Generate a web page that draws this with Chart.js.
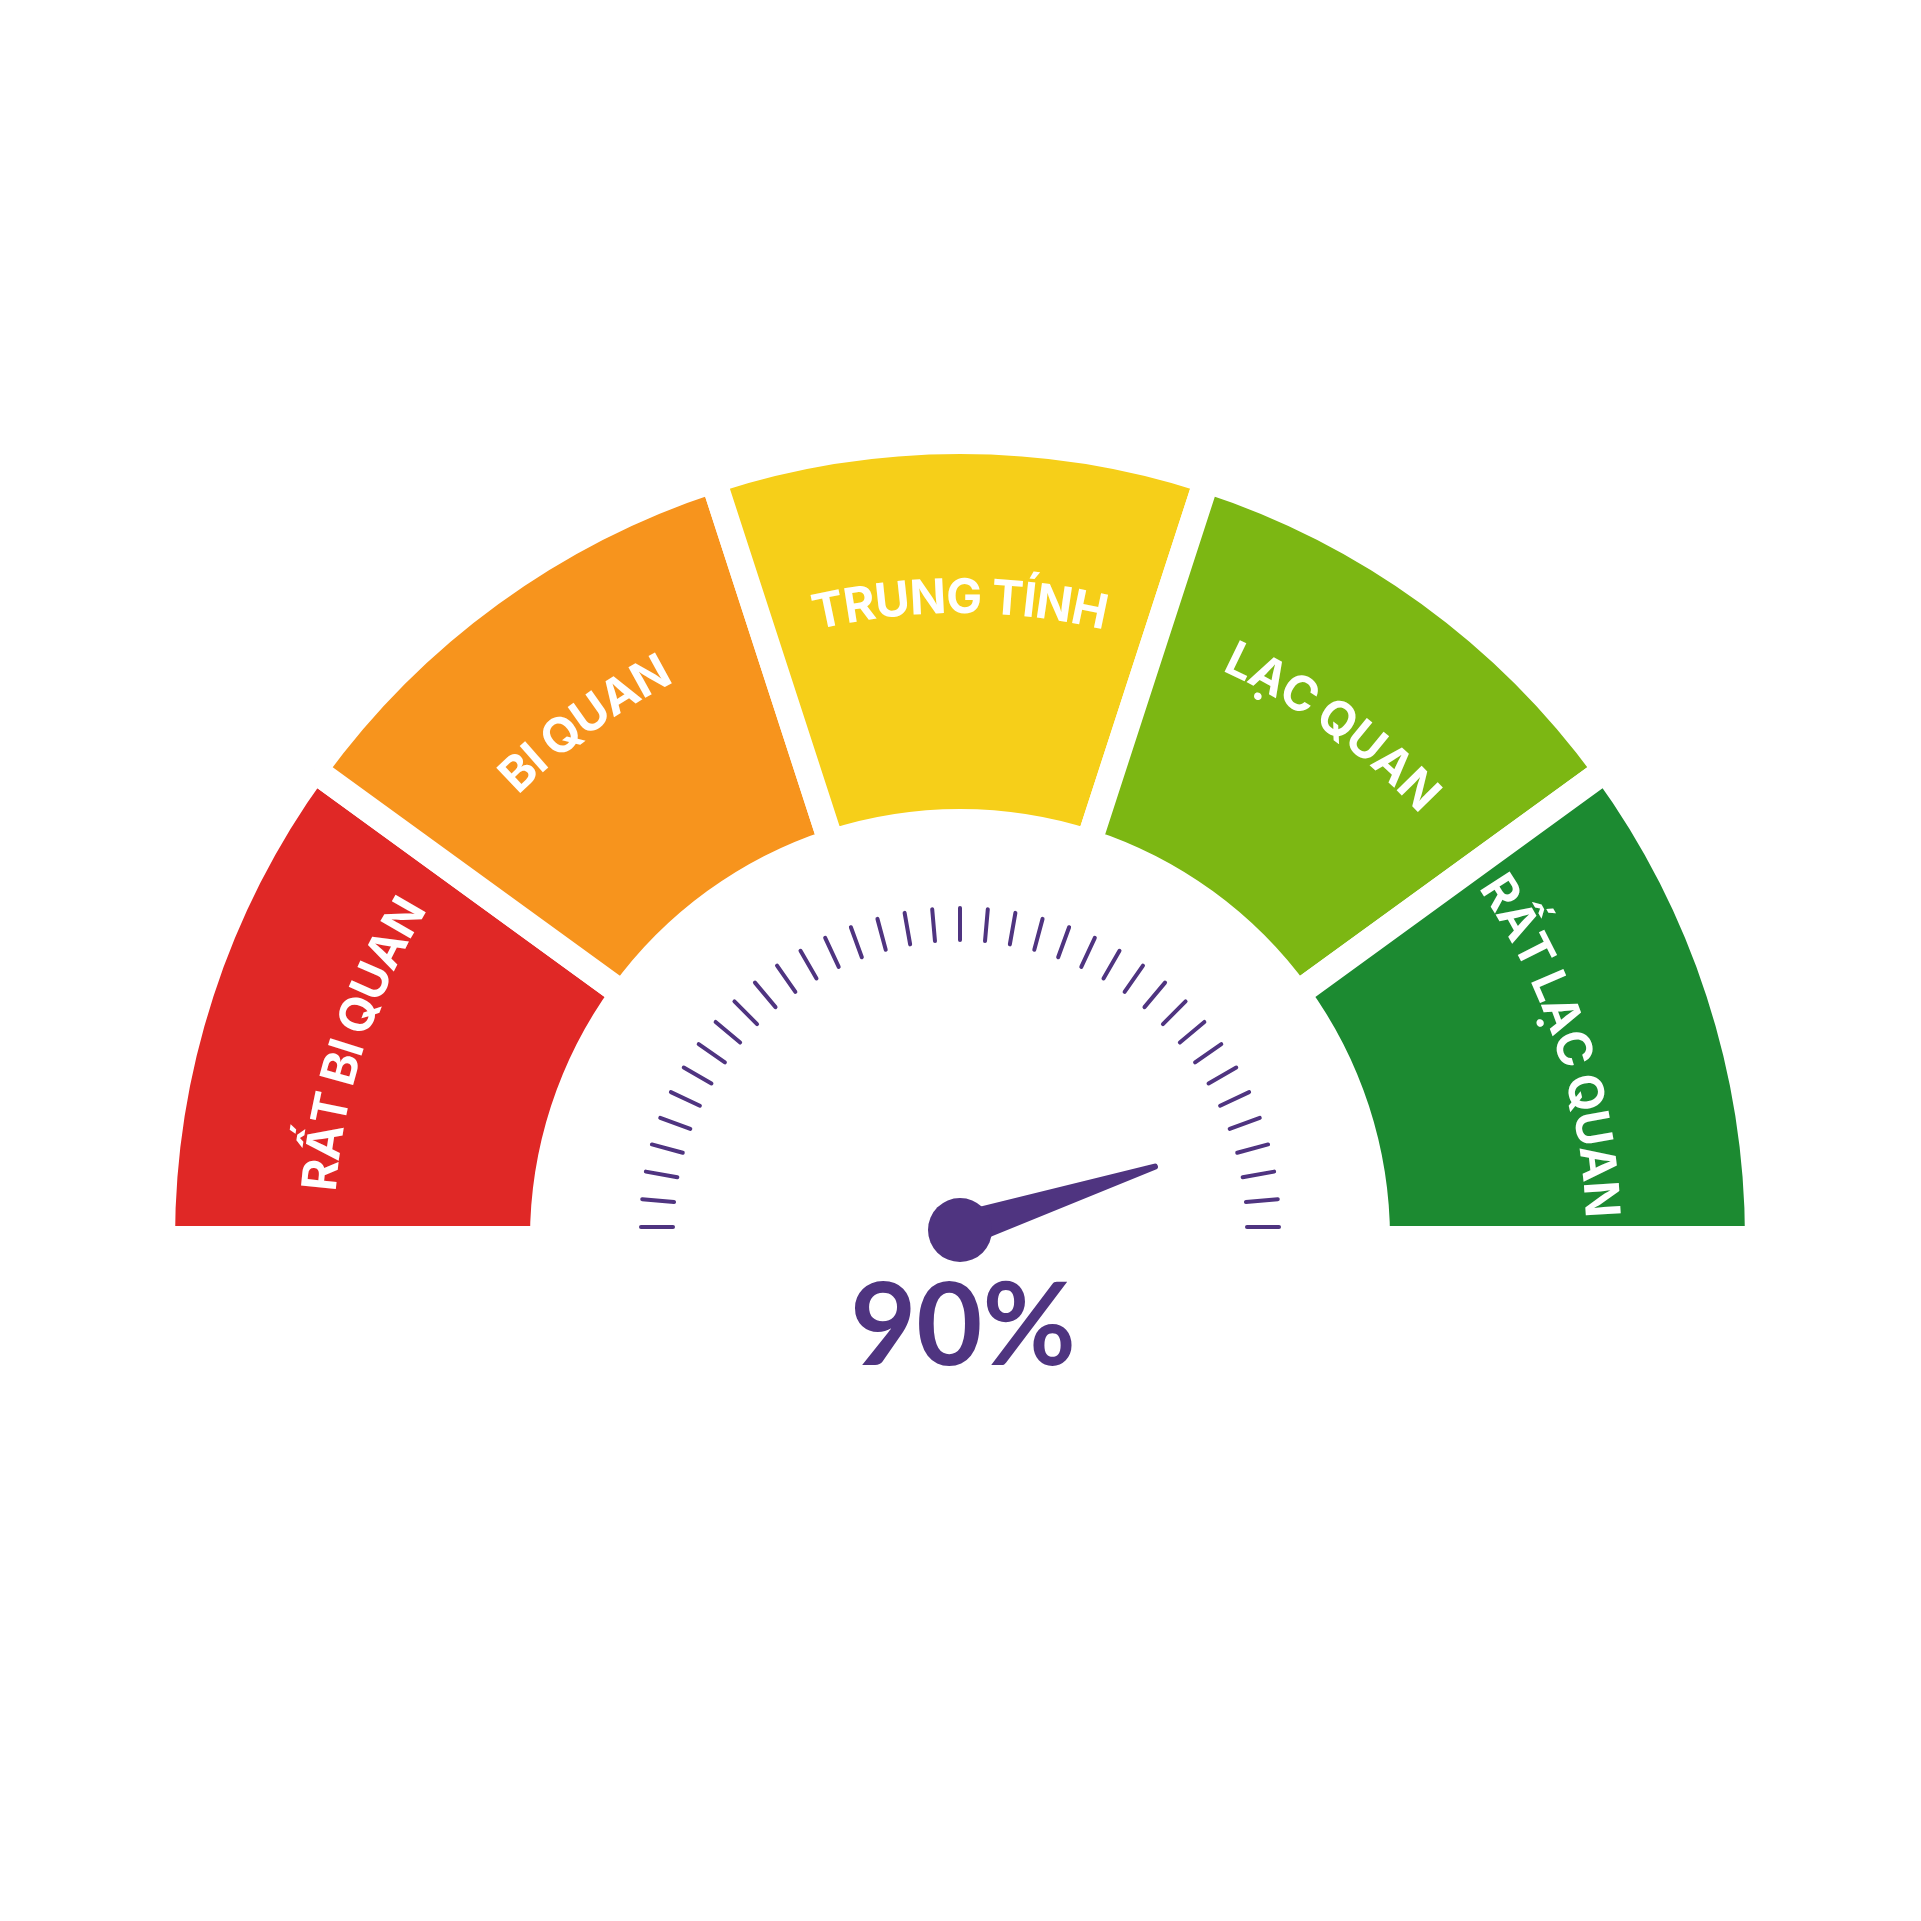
<!DOCTYPE html>
<html>
<head>
<meta charset="utf-8">
<script src="https://cdn.jsdelivr.net/npm/chart.js@4.4.1/dist/chart.umd.min.js"></script>
<style>
html,body{margin:0;padding:0;background:#ffffff;}
#wrap{width:1921px;height:1921px;}
</style>
</head>
<body>
<div id="wrap"><canvas id="c" width="1921" height="1921"></canvas></div>
<script>
// ---- data ----
const categories = ['RẤT BI QUAN', 'BI QUAN', 'TRUNG TÍNH', 'LẠC QUAN', 'RẤT LẠC QUAN'];
const segmentValues = [20, 20, 20, 20, 20];
const gaugeValue = 90;
const gaugeMax = 100;
const valueLabel = '90%';
const tickCount = 37;
// ---- styles ----
const segmentColors = ['#e02826', '#f7941d', '#f6cf19', '#7cb713', '#1c8a31'];
const purple = '#4f3480';

function drawArcText(ctx, text, cx, cy, r, midAngle, spacing, spaceScale) {
  const chars = Array.from(text);
  const widths = chars.map(ch => ctx.measureText(ch).width * (ch === ' ' ? spaceScale : 1));
  const total = widths.reduce((a, b) => a + b, 0) + spacing * (chars.length - 1);
  let a = midAngle - total / (2 * r);
  for (let i = 0; i < chars.length; i++) {
    const w = widths[i];
    const ang = a + (w / 2) / r;
    if (chars[i] !== ' ') {
      ctx.save();
      ctx.translate(cx + r * Math.cos(ang), cy + r * Math.sin(ang));
      ctx.rotate(ang + Math.PI / 2);
      ctx.fillText(chars[i], 0, 0);
      ctx.restore();
    }
    a += (w + spacing) / r;
  }
}

const gaugePlugin = {
  id: 'gauge',
  afterDatasetsDraw(chart) {
    const ctx = chart.ctx;
    const meta = chart.getDatasetMeta(0);
    const arcs = meta.data;
    const cx = arcs[0].x, cy = arcs[0].y;
    ctx.save();
    // segment labels
    ctx.fillStyle = '#ffffff';
    ctx.font = '700 48px Inter, "Open Sans", sans-serif';
    ctx.textAlign = 'center';
    ctx.textBaseline = 'alphabetic';
    arcs.forEach((arc, i) => {
      const mid = (arc.startAngle + arc.endAngle) / 2;
      drawArcText(ctx, categories[i], cx, cy, 626, mid, -1, 0.9);
    });
    // ticks
    const tcx = cx, tcy = cy - 12;
    ctx.strokeStyle = purple;
    ctx.lineWidth = 4;
    ctx.lineCap = 'round';
    for (let i = 0; i < tickCount; i++) {
      const t = Math.PI + i * Math.PI / (tickCount - 1);
      ctx.beginPath();
      ctx.moveTo(tcx + 287 * Math.cos(t), tcy + 287 * Math.sin(t));
      ctx.lineTo(tcx + 319 * Math.cos(t), tcy + 319 * Math.sin(t));
      ctx.stroke();
    }
    // needle
    const hx = cx, hy = cy - 9;
    const ang = Math.PI + (gaugeValue / gaugeMax) * Math.PI;
    const ux = Math.cos(ang), uy = Math.sin(ang);
    const nx = -uy, ny = ux;
    const baseHW = 18, tipHW = 3, len = 205;
    ctx.fillStyle = purple;
    ctx.beginPath();
    ctx.moveTo(hx + nx * baseHW, hy + ny * baseHW);
    ctx.lineTo(hx + ux * len + nx * tipHW, hy + uy * len + ny * tipHW);
    ctx.arc(hx + ux * len, hy + uy * len, tipHW, ang + Math.PI / 2, ang - Math.PI / 2, true);
    ctx.lineTo(hx - nx * baseHW, hy - ny * baseHW);
    ctx.closePath();
    ctx.fill();
    ctx.beginPath();
    ctx.arc(hx, hy, 32, 0, Math.PI * 2);
    ctx.fill();
    // value text
    ctx.font = '700 114px Lato, "Open Sans", sans-serif';
    ctx.textAlign = 'center';
    ctx.fillText(valueLabel, cx + 3, 1365);
    ctx.restore();
  }
};

new Chart(document.getElementById('c'), {
  type: 'doughnut',
  data: {
    labels: categories,
    datasets: [{
      data: segmentValues,
      backgroundColor: segmentColors,
      borderColor: '#ffffff',
      borderWidth: 26,
      hoverOffset: 0
    }]
  },
  options: {
    responsive: false,
    devicePixelRatio: 1,
    animation: false,
    events: [],
    rotation: -90,
    circumference: 180,
    radius: 798,
    cutout: '52.26%',
    layout: { padding: { left: 0, right: 1, top: 0, bottom: 241 } },
    plugins: { legend: { display: false }, tooltip: { enabled: false } }
  },
  plugins: [gaugePlugin]
});
</script>
</body>
</html>
